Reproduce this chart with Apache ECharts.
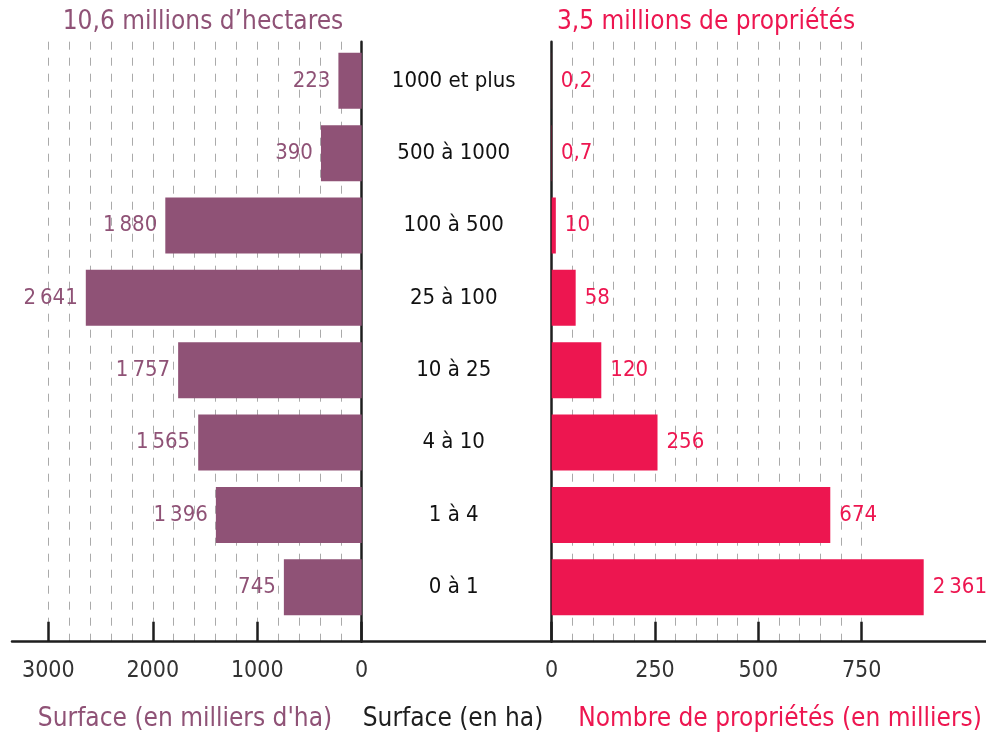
<!DOCTYPE html>
<html>
<head>
<meta charset="utf-8">
<script src="https://cdn.jsdelivr.net/npm/echarts@6/dist/echarts.min.js"></script>
<style>
  html, body { margin: 0; background: #fff; }
  #main { width: 986px; height: 734px; }
</style>
</head>
<body>
<div id="main"></div>
<script>
// classes de surface (en ha), du haut vers le bas
const categories = ['1000 et plus', '500 à 1000', '100 à 500', '25 à 100', '10 à 25', '4 à 10', '1 à 4', '0 à 1']
// surface en milliers d'ha
const surface = [223, 390, 1880, 2641, 1757, 1565, 1396, 745]
// nombre de propriétés en milliers
const proprietes = [0.2, 0.7, 10, 58, 120, 256, 674, 2361]
// la barre "0 à 1" est coupée dans l'original
const barCap = 900

const violet = '#8F5276'
const rose = '#ED1650'
const noir = '#1e1e1e'
const font = "'DejaVu Sans Condensed', 'DejaVu Sans', sans-serif"

// format français : virgule décimale, espace fine pour les milliers
function fr (v) {
  return String(v).replace('.', ',').replace(/\B(?=(\d{3})+(?!\d))/g, '\u2009')
}

const dashed = { show: true, lineStyle: { color: '#aaa', width: 1, type: [8, 8] } }
const tick = { show: true, inside: true, length: 20, lineStyle: { color: noir, width: 2.5 } }
const tickLabel = { margin: 18, fontSize: 23, color: '#333', fontFamily: font, formatter: v => String(v) }
const vline = { show: true, onZero: false, lineStyle: { color: noir, width: 2.5 } }
const titleStyle = c => ({ color: c, fontSize: 26, fontWeight: 'normal', fontFamily: font })

var myChart = echarts.init(document.getElementById('main'))

myChart.setOption({
  animation: false,
  title: [
    { text: '10,6 millions d’hectares', left: 203, top: 9, textAlign: 'center', padding: 0, textStyle: titleStyle(violet) },
    { text: '3,5 millions de propriétés', left: 706, top: 9, textAlign: 'center', padding: 0, textStyle: titleStyle(rose) },
    { text: "Surface (en milliers d'ha)", left: 185, top: 706, textAlign: 'center', padding: 0, textStyle: titleStyle(violet) },
    { text: 'Surface (en ha)', left: 453, top: 706, textAlign: 'center', padding: 0, textStyle: titleStyle(noir) },
    { text: 'Nombre de propriétés (en milliers)', left: 780, top: 706, textAlign: 'center', padding: 0, textStyle: titleStyle(rose) }
  ],
  grid: [
    { left: 48.3, right: 624.3, top: 41.7, bottom: 92.3 }, // cadre gauche
    { left: 48.3, right: 624.3, top: 44.6, bottom: 110.5 }, // barres surface
    { left: 551.7, right: 124.3, top: 41.7, bottom: 92.3 }, // cadre droit
    { left: 551.7, right: 124.3, top: 44.6, bottom: 110.5 }, // barres propriétés
    { left: 12, right: 0, top: 41.7, bottom: 92.3 } // ligne de base
  ],
  xAxis: [
    {
      gridIndex: 0, type: 'value', inverse: true, min: 0, max: 3000, interval: 1000,
      axisLine: { show: false }, axisTick: tick, axisLabel: tickLabel,
      splitLine: dashed, minorTick: { show: false, splitNumber: 5 }, minorSplitLine: dashed
    },
    { gridIndex: 1, type: 'value', inverse: true, min: 0, max: 3000, show: false },
    {
      gridIndex: 2, type: 'value', min: 0, max: 750, interval: 250,
      axisLine: { show: false }, axisTick: tick, axisLabel: tickLabel,
      splitLine: dashed, minorTick: { show: false, splitNumber: 5 }, minorSplitLine: dashed
    },
    { gridIndex: 3, type: 'value', min: 0, max: 750, show: false },
    {
      gridIndex: 4, type: 'value',
      axisLine: { show: true, onZero: false, lineStyle: { color: noir, width: 2.5 } },
      axisTick: { show: false }, axisLabel: { show: false }, splitLine: { show: false }
    }
  ],
  yAxis: [
    {
      gridIndex: 0, type: 'value', position: 'right', axisLine: vline,
      axisTick: { show: false }, axisLabel: { show: false }, splitLine: { show: false }
    },
    {
      gridIndex: 1, type: 'category', data: categories, inverse: true, position: 'right',
      axisLine: { show: false }, axisTick: { show: false },
      axisLabel: { margin: 92, align: 'center', fontSize: 22, color: '#111', fontFamily: font }
    },
    {
      gridIndex: 2, type: 'value', position: 'left', axisLine: vline,
      axisTick: { show: false }, axisLabel: { show: false }, splitLine: { show: false }
    },
    { gridIndex: 3, type: 'category', data: categories, inverse: true, show: false },
    { gridIndex: 4, type: 'value', show: false }
  ],
  series: [
    {
      name: 'Surface',
      type: 'bar',
      xAxisIndex: 1,
      yAxisIndex: 1,
      data: surface,
      barWidth: 56,
      itemStyle: { color: violet },
      label: {
        show: true, position: 'left', distance: 8,
        color: violet, fontSize: 22, fontFamily: font,
        formatter: p => fr(p.value)
      }
    },
    {
      name: 'Propriétés',
      type: 'bar',
      xAxisIndex: 3,
      yAxisIndex: 3,
      data: proprietes.map(v => Math.min(v, barCap)),
      clip: false,
      barWidth: 56,
      itemStyle: { color: rose },
      label: {
        show: true, position: 'right', distance: 9,
        color: rose, fontSize: 22, fontFamily: font,
        formatter: p => fr(proprietes[p.dataIndex])
      }
    }
  ]
})
</script>
</body>
</html>
